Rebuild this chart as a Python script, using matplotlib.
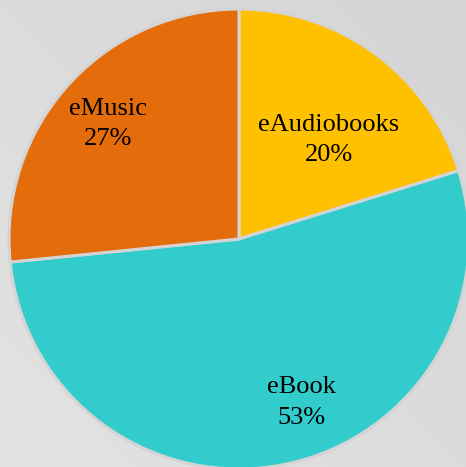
import numpy as np
import matplotlib
matplotlib.use('Agg')
import matplotlib.pyplot as plt

# share of loans by format
formats = ['eAudiobooks', 'eBook', 'eMusic']
shares = [20.2, 53.2, 26.6]
colors = ['#FFC000', '#33CCCC', '#E46C0A']

plt.rcParams['font.family'] = ['Liberation Serif', 'DejaVu Serif']

fig = plt.figure(figsize=(4.66, 4.67), dpi=100)

# soft grey gradient background (darker top right, lighter bottom left)
bg = fig.add_axes([0, 0, 1, 1])
yy, xx = np.mgrid[0:1:200j, 0:1:200j]
grad = 0.5 * (yy + (1 - xx))
g = 0.835 + 0.055 * grad
bg.imshow(np.dstack([g, g, g]), aspect='auto', origin='upper')
bg.axis('off')

# pie axes: centre at about (239, 239) px, radius about 230 px
L = 1.02
w = 460 * L
ax = fig.add_axes([(239 - w / 2) / 466, (228 - w / 2) / 467, w / 466, w / 467])
wedges, _ = ax.pie(shares, colors=colors, startangle=90, counterclock=False,
                   wedgeprops=dict(edgecolor='#d4d4d4', linewidth=2.2))
ax.set_xlim(-L, L)
ax.set_ylim(-L, L)
ax.set_aspect('equal')
ax.axis('off')

# label positions (pie units), as placed in the original
label_pos = [(0.39, 0.43), (0.27, -0.71), (-0.57, 0.50)]
total = sum(shares)
for name, val, (x, y) in zip(formats, shares, label_pos):
    ax.text(x, y, '%s\n%.0f%%' % (name, val / total * 100), ha='center', va='center',
            fontsize=19, color='black', linespacing=1.5)

plt.savefig('out.png', dpi=100)
plt.close()
